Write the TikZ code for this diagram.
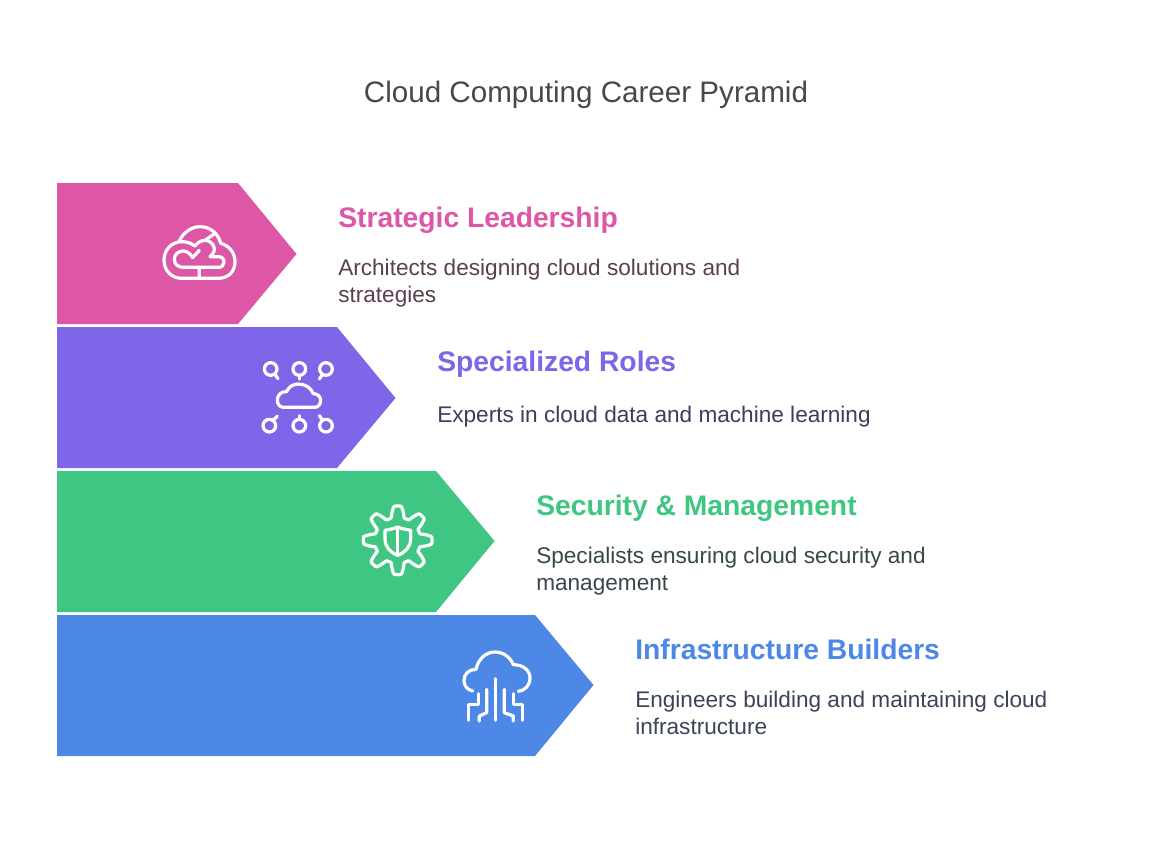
\documentclass[tikz,border=0pt]{standalone}
\usepackage{fontspec}
\setmainfont{Liberation Sans}
\definecolor{cpink}{HTML}{DE57A6}
\definecolor{cpurple}{HTML}{7F65E8}
\definecolor{cgreen}{HTML}{3EC682}
\definecolor{cblue}{HTML}{4D88E6}
\definecolor{tpink}{HTML}{5A3F50}
\definecolor{tpurple}{HTML}{3F3C5A}
\definecolor{tgreen}{HTML}{35484A}
\definecolor{tblue}{HTML}{3A4458}
\definecolor{ttitle}{HTML}{484848}
\tikzset{
  titletext/.style={anchor=base,inner sep=0pt,text=ttitle,font=\fontsize{22.2}{27}\selectfont},
  headtext/.style={anchor=base west,inner sep=0pt,font=\fontsize{21.2}{27}\selectfont\bfseries},
  bodytext/.style={anchor=north west,inner sep=0pt,align=left,font=\fontsize{16.95}{20.25}\selectfont},
  icon/.style={draw=white,line width=2.4pt,line cap=round,line join=round},
}
\begin{document}
\begin{tikzpicture}[x=0.75pt,y=-0.75pt]
\useasboundingbox (0,0) rectangle (1173,849);
\fill[white] (0,0) rectangle (1173,849);
\node[titletext] (title) at (586,102) {Cloud Computing Career Pyramid};
% arrows
\fill[cpink] (57,183) -- (238,183) -- (296.5,254) -- (238,324) -- (57,324) -- cycle;
\fill[cpurple] (57,327) -- (337,327) -- (395.5,398) -- (337,468) -- (57,468) -- cycle;
\fill[cgreen] (57,471) -- (436,471) -- (494.5,541) -- (436,612) -- (57,612) -- cycle;
\fill[cblue] (57,615) -- (535,615) -- (593.5,685) -- (535,756) -- (57,756) -- cycle;
% texts
\node[headtext,text=cpink] (h1) at (338,227.5) {Strategic Leadership};
\node[bodytext,text=tpink] (b1) at (338,258.5) {Architects designing cloud solutions and\\strategies};
\node[headtext,text=cpurple] (h2) at (437,371.5) {Specialized Roles};
\node[bodytext,text=tpurple] (b2) at (437,405.5) {Experts in cloud data and machine learning};
\node[headtext,text=cgreen] (h3) at (536,515.5) {Security \& Management};
\node[bodytext,text=tgreen] (b3) at (536,546.5) {Specialists ensuring cloud security and\\management};
\node[headtext,text=cblue] (h4) at (635,659.5) {Infrastructure Builders};
\node[bodytext,text=tblue] (b4) at (635,690.5) {Engineers building and maintaining cloud\\infrastructure};
% icon 1: brain cloud
\begin{scope}[shift={(150,215)},scale=0.3333]
\draw[icon] (148,190) -- (95,190) .. controls (65,190) and (42,167) .. (42,135) .. controls (42,105) and (65,80) .. (95,80)
  .. controls (112,80) and (124,85) .. (135,93);
\draw[icon] (88,78) .. controls (100,52) and (125,35) .. (150,35) .. controls (180,35) and (205,55) .. (212,85)
  .. controls (238,92) and (255,113) .. (255,140) .. controls (255,170) and (235,190) .. (205,190) -- (148,190) -- (148,157);
\draw[icon] (128,128) .. controls (120,115) and (110,108) .. (100,108) .. controls (85,108) and (73,118) .. (73,133) .. controls (73,148) and (85,157) .. (100,157)
  -- (205,157) .. controls (216,157) and (222,150) .. (222,141) .. controls (222,131) and (215,125) .. (205,125) -- (180,125)
  .. controls (192,115) and (195,105) .. (192,96) .. controls (188,84) and (177,76) .. (165,76) .. controls (152,76) and (142,84) .. (135,93);
\draw[icon] (128,128) -- (148,106);
\draw[icon] (165,76) -- (195,55);
\end{scope}
% icon 2: cloud network
\begin{scope}[shift={(250,355)},scale=0.3333]
\draw[icon] (100,157) -- (195,157) .. controls (205,157) and (212,147) .. (212,136) .. controls (212,125) and (203,116) .. (190,116)
  .. controls (183,98) and (165,87) .. (145,87) .. controls (128,87) and (115,97) .. (110,110) .. controls (95,108) and (82,120) .. (82,135) .. controls (82,148) and (90,157) .. (100,157) -- cycle;
\draw[icon] (62,42) circle (19); \draw[icon] (74,57) -- (84,71);
\draw[icon] (148,42) circle (19); \draw[icon] (148,61) -- (148,72);
\draw[icon] (228,42) circle (19); \draw[icon] (218,58) -- (208,72);
\draw[icon] (58,212) circle (19); \draw[icon] (68,197) -- (82,184);
\draw[icon] (148,212) circle (19); \draw[icon] (148,193) -- (148,182);
\draw[icon] (228,212) circle (19); \draw[icon] (218,196) -- (208,182);
\end{scope}
% icon 3: gear shield
\begin{scope}[shift={(350,497)},scale=0.3333]
\begin{scope}[shift={(143,130)}]
\draw[icon] plot[domain=0:360,samples=161,smooth] (\x:{86+17*max(min(1.5*cos(8*\x),1),-1)}) -- cycle;
\end{scope}
\draw[icon] (105,100) .. controls (120,97) and (132,95) .. (143,90) .. controls (154,95) and (167,97) .. (182,100) -- (182,125) .. controls (182,150) and (165,167) .. (143,175) .. controls (121,167) and (105,150) .. (105,125) -- cycle;
\draw[icon] (143,92) -- (143,175);
\end{scope}
% icon 4: cloud circuit
\begin{scope}[shift={(450,642)},scale=0.3333]
\draw[icon] (68,147) .. controls (50,143) and (42,130) .. (42,115) .. controls (42,95) and (58,82) .. (78,82)
  .. controls (85,50) and (108,30) .. (135,30) .. controls (160,30) and (180,45) .. (190,68)
  .. controls (220,68) and (240,85) .. (240,108) .. controls (240,130) and (225,146) .. (205,148);
\draw[icon] (137,110) -- (137,235);
\draw[icon] (110,142) -- (110,212) -- (88,222) -- (88,237);
\draw[icon] (85,155) -- (85,188) -- (55,188) -- (55,235);
\draw[icon] (163,142) -- (163,212) -- (190,222) -- (190,237);
\draw[icon] (190,155) -- (190,188) -- (218,188) -- (218,235);
\end{scope}
\end{tikzpicture}
\end{document}
